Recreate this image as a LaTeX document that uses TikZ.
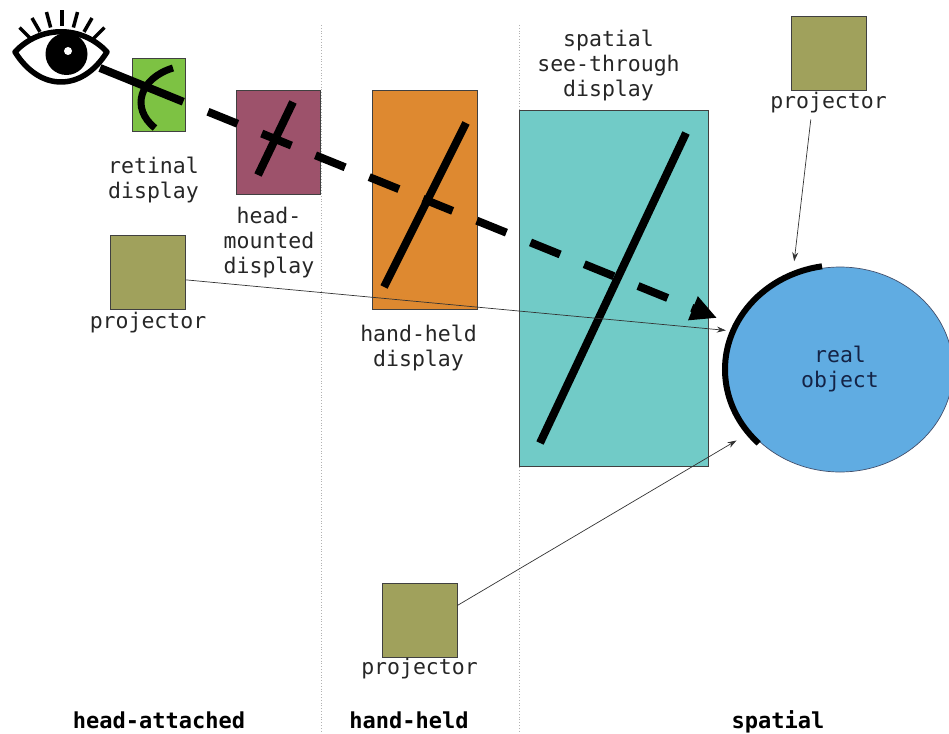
\documentclass[tikz,border=0pt]{standalone}
\usepackage{fontspec}
\setmainfont{DejaVu Sans Mono}
\usetikzlibrary{positioning, arrows.meta, calc, shapes.geometric}
\definecolor{retinagreen}{RGB}{125,194,67}
\definecolor{hmdmauve}{RGB}{157,82,107}
\definecolor{handorange}{RGB}{222,137,48}
\definecolor{seecyan}{RGB}{113,203,199}
\definecolor{projolive}{RGB}{160,161,92}
\definecolor{objectblue}{RGB}{96,172,226}
\definecolor{objectnavy}{RGB}{20,35,70}
\tikzset{
	display/.style={draw=black!75, line width=0.7pt, inner sep=0pt},
	projector/.style={display, fill=projolive, minimum width=75pt, minimum height=74pt},
	caption/.style={inner sep=0pt, align=center, text=black!85, font=\fontsize{21.5}{25}\selectfont},
	zone/.style={inner sep=0pt, font=\bfseries\fontsize{22}{26}\selectfont},
	divider/.style={gray!60, dotted, line width=0.8pt},
	screen/.style={line width=8pt},
	viewray/.style={line width=8pt, dash pattern=on 32pt off 26pt, -{Triangle[length=26pt,width=24pt]}},
	beam/.style={line width=0.7pt, black!80, -{Stealth[length=9pt,width=6pt]}},
	lash/.style={line width=3.5pt},
}
\begin{document}
\begin{tikzpicture}[x=1pt, y=-1pt]
	\useasboundingbox (0,0) rectangle (949,733);
	\draw[divider] (321,25) -- (321,733);
	\draw[divider] (519,25) -- (519,733);
	
	\node[display, fill=retinagreen, minimum width=53pt, minimum height=73pt] (RETINAL) at (158.5,94.5) {};
	\node[display, fill=hmdmauve, minimum width=84pt, minimum height=104pt] (HMD) at (278,142) {};
	\node[display, fill=handorange, minimum width=105pt, minimum height=219pt] (HANDHELD) at (424.5,199.5) {};
	\node[display, fill=seecyan, minimum width=189pt, minimum height=356pt] (SPATIAL) at (613.5,288) {};
	\node[projector] (PL) at (148,272.5) {};
	\node[projector] (PB) at (419.5,620) {};
	\node[projector] (PTR) at (828.5,53) {};
	\node[ellipse, draw=objectnavy!80, line width=0.7pt, fill=objectblue, minimum width=226pt, minimum height=205pt, inner sep=0pt, align=center, text=objectnavy, font=\fontsize{21.5}{25}\selectfont] (OBJECT) at (840,369.5) {real\\object};
	
	\node[caption, below=25pt of RETINAL, xshift=-5pt] (RETINALTXT) {retinal\\display};
	\node[caption, below=13pt of HMD, xshift=-9pt] (HMDTXT) {head-\\mounted\\display};
	\node[caption, below=2pt of PL] (PLTXT) {projector};
	\node[caption, below=15pt of HANDHELD, xshift=-6pt] (HHTXT) {hand-held\\display};
	\node[caption, above=8pt of SPATIAL, xshift=-5pt] (SPTXT) {spatial\\see-through\\display};
	\node[caption, below=2pt of PTR] (PTRTXT) {projector};
	\node[caption, below=1pt of PB] (PBTXT) {projector};
	
	\node[zone] (HEADZONE) at (159,720) {head-attached};
	\node[zone] (HANDZONE) at (409,720) {hand-held};
	\node[zone] (SPATIALZONE) at (778,722) {spatial};
	
	\coordinate (EYEC) at (62,70);
	\coordinate (EYE) at (100,68);
	\coordinate (VIEWEND) at (717,318);
	\draw[line width=5.5pt, line join=round] (15,52) .. controls (40,25) and (82,25) .. (107,52) .. controls (82,92) and (40,92) .. (15,52) -- cycle;
	\fill (66.5,54) circle[radius=21];
	\fill[white] (68,51) circle[radius=4];
	\foreach \a in {45,60,...,135}
		\draw[lash] ($(EYEC)+(-\a:44)$) -- ($(EYEC)+(-\a:60)$);
	
	\draw[screen, line width=7pt] (173,68) .. controls (140,78) and (130,108) .. (155,128);
	\draw[screen] (293,102) -- (258,175);
	\draw[screen] (466,123) -- (384,287);
	\draw[screen] (686,133) -- (540,443);
	
	\draw[screen] (EYE) -- ($(EYE)!0.135!(VIEWEND)$);
	\draw[viewray] ($(EYE)!0.175!(VIEWEND)$) -- (VIEWEND);
	
	\draw[beam, shorten >=9pt] (PL.-11) -- (OBJECT.160);
	\draw[beam, shorten >=16pt] (PB.21) -- (OBJECT.215);
	\draw[beam, shorten <=6pt, shorten >=15pt] ([xshift=-17pt]PTRTXT.south) -- (OBJECT.117);
	
	\draw[line width=6pt] (OBJECT.center) ++(-99:115 and 104.5) arc[start angle=-99, end angle=-225, x radius=115, y radius=104.5];
\end{tikzpicture}
\end{document}
